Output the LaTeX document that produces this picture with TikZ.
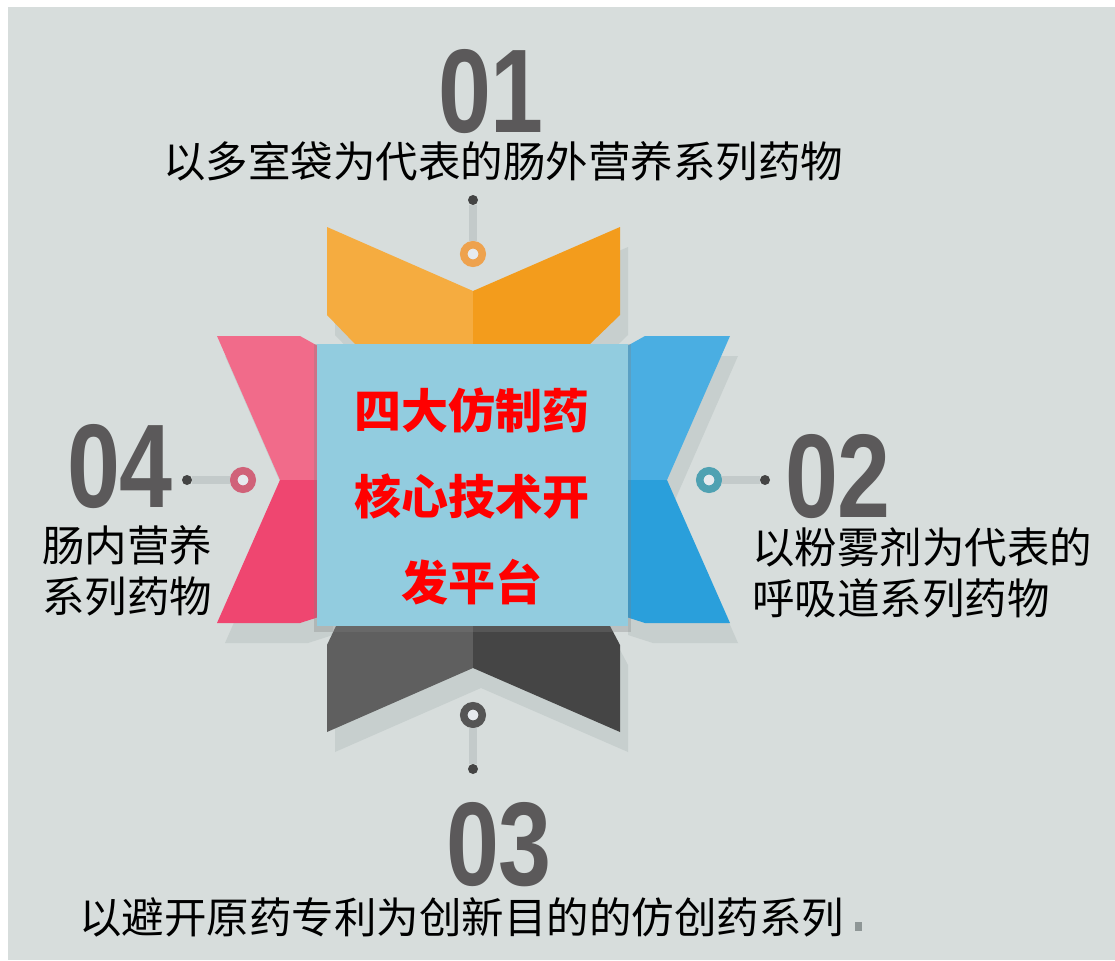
\documentclass[tikz,border=0pt]{standalone}
\usepackage{fontspec}
\usepackage{tikz}
\usetikzlibrary{shapes.geometric, positioning, shadows, calc}
\newfontfamily\cjk{Noto Sans CJK SC}
\newfontfamily\numfont{Liberation Sans}
\definecolor{bggray}{RGB}{215,221,220}
\definecolor{shadowgray}{RGB}{199,207,206}
\definecolor{stemgray}{RGB}{195,202,202}
\definecolor{dotgray}{RGB}{68,68,68}
\definecolor{holefill}{RGB}{230,234,238}
\definecolor{numgray}{RGB}{91,89,90}
\definecolor{markgray}{RGB}{142,150,150}
\definecolor{platblue}{RGB}{146,204,223}
\definecolor{orangeL}{RGB}{245,172,64}
\definecolor{orangeR}{RGB}{243,156,28}
\definecolor{darkL}{RGB}{95,95,95}
\definecolor{darkR}{RGB}{69,69,69}
\definecolor{pinkU}{RGB}{241,107,138}
\definecolor{pinkD}{RGB}{239,70,112}
\definecolor{blueU}{RGB}{74,174,226}
\definecolor{blueD}{RGB}{42,159,219}
\definecolor{ringorange}{RGB}{238,162,78}
\definecolor{ringpink}{RGB}{208,98,121}
\definecolor{ringteal}{RGB}{79,161,178}
\definecolor{ringdark}{RGB}{85,85,85}

\begin{document}
\begin{tikzpicture}[x=1pt,y=-1pt,
    numtext/.style={anchor=base,inner sep=0,text=numgray,font=\numfont\bfseries\fontsize{119}{119}\selectfont},
    labtext/.style={inner sep=0,text=black,font=\cjk\fontsize{42.5}{51}\selectfont},
    hubring/.style={circle,draw=#1,line width=7.5pt,fill=holefill,minimum size=18.5pt,inner sep=0},
    enddot/.style={circle,fill=dotgray,minimum size=10pt,inner sep=0},
    stem/.style={draw=stemgray,line width=8pt}]
    \useasboundingbox (0,0) rectangle (1115,960);
    \fill[bggray] (8,7) rectangle (1115,960);

    % Ombre delle ali
    \begin{scope}[shift={(8,20)}]
        \fill[shadowgray] (327,227) -- (473,291) -- (620,227) -- (620,315) -- (590,344) -- (355,344) -- (327,315) -- cycle;
        \fill[shadowgray] (336,626) -- (610,626) -- (620,645) -- (620,732) -- (473,668) -- (327,732) -- (327,645) -- cycle;
        \fill[shadowgray] (217,336) -- (300,336) -- (325,350) -- (325,615) -- (300,623) -- (217,623) -- (280,480) -- cycle;
        \fill[shadowgray] (645,336) -- (730,336) -- (667,480) -- (730,623) -- (645,623) -- (620,615) -- (620,350) -- cycle;
    \end{scope}

    % Ala superiore
    \fill[orangeL] (327,227) -- (473,291) -- (473,344) -- (355,344) -- (327,315) -- cycle;
    \fill[orangeR] (620,227) -- (473,291) -- (473,344) -- (590,344) -- (620,315) -- cycle;
    % Ala inferiore
    \fill[darkL] (473,626) -- (336,626) -- (327,645) -- (327,732) -- (473,668) -- cycle;
    \fill[darkR] (473,626) -- (610,626) -- (620,645) -- (620,732) -- (473,668) -- cycle;
    % Ala sinistra
    \fill[pinkU] (217,336) -- (300,336) -- (325,350) -- (325,480) -- (280,480) -- cycle;
    \fill[pinkD] (280,480) -- (325,480) -- (325,615) -- (300,623) -- (217,623) -- cycle;
    % Ala destra
    \fill[blueU] (620,350) -- (645,336) -- (730,336) -- (667,480) -- (620,480) -- cycle;
    \fill[blueD] (620,480) -- (667,480) -- (730,623) -- (645,623) -- (620,615) -- cycle;

    % Connettori
    \node[hubring=ringorange] (r1) at (473,254) {};
    \node[enddot] (d1) at (473,200) {};
    \draw[stem] (d1) -- (r1);
    \node[hubring=ringteal] (r2) at (709,480) {};
    \node[enddot] (d2) at (765,480) {};
    \draw[stem] (d2) -- (r2);
    \node[hubring=ringdark] (r3) at (473,715) {};
    \node[enddot] (d3) at (473,769) {};
    \draw[stem] (d3) -- (r3);
    \node[hubring=ringpink] (r4) at (243,480) {};
    \node[enddot] (d4) at (187,480) {};
    \draw[stem] (d4) -- (r4);

    % Piattaforma centrale
    \node[rectangle,fill=platblue,minimum width=311pt,minimum height=282pt,inner sep=0,
        drop shadow={shadow xshift=0pt,shadow yshift=-3pt,shadow scale=1.02,opacity=0.3}] (plat) at (472.5,485) {};
    \node[align=center,inner sep=0,text=red,font=\cjk\bfseries\fontsize{47}{86}\selectfont] (core) at (472,496) {四大仿制药\\核心技术开\\发平台};

    % Numeri
    \node[numtext] (num1) at (491,133) {\scalebox{0.8}[1]{01}};
    \node[numtext] (num2) at (838,517) {\scalebox{0.8}[1]{02}};
    \node[numtext] (num3) at (499,885) {\scalebox{0.8}[1]{03}};
    \node[numtext] (num4) at (120,507) {\scalebox{0.8}[1]{04}};

    % Testi
    \node[labtext,anchor=base] (lab1) at (503,178) {以多室袋为代表的肠外营养系列药物};
    \node[labtext,anchor=north west,align=left] (lab2) at (752,527) {以粉雾剂为代表的\\呼吸道系列药物};
    \node[labtext,anchor=base] (lab3) at (461.5,933) {以避开原药专利为创新目的的仿创药系列};
    \node[labtext,anchor=north west,align=left] (lab4) at (42,525) {肠内营养\\系列药物};
    \node[fill=markgray,minimum width=7pt,minimum height=9pt,inner sep=0] (tail) at (858.5,926.5) {};
\end{tikzpicture}
\end{document}
